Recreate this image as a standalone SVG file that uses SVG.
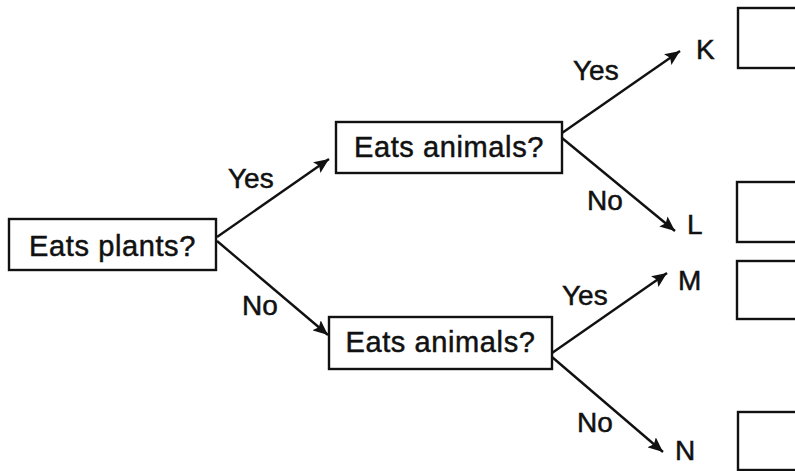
<svg xmlns="http://www.w3.org/2000/svg" width="795" height="471" viewBox="0 0 795 471">
  <style>
    .box { fill: #fff; stroke: #111; stroke-width: 2.4; }
    .txt { font-family: "Liberation Sans", Arial, sans-serif; font-size: 29px; fill: #111; stroke: #111; stroke-width: 0.5px; letter-spacing: 0.6px; }
    .lbl { font-family: "Liberation Sans", Arial, sans-serif; font-size: 28px; fill: #111; stroke: #111; stroke-width: 0.5px; }
    .edge { stroke: #111; stroke-width: 2.4; fill: none; marker-end: url(#arrow); }
  </style>
  <defs>
    <marker id="arrow" markerUnits="userSpaceOnUse" markerWidth="17" markerHeight="13" refX="15" refY="6.5" orient="auto">
      <path d="M0,0 L15,6.5 L0,13 L3,6.5 Z" fill="#111"/>
    </marker>
  </defs>
  <rect width="795" height="471" fill="#fff"/>

  <!-- connectors and their branch labels -->
  <g id="connectors">
    <line class="edge" x1="217" y1="237" x2="329" y2="159"/>
    <line class="edge" x1="217" y1="241" x2="328" y2="335"/>
    <line class="edge" x1="562" y1="133" x2="680" y2="51"/>
    <line class="edge" x1="562" y1="138" x2="675" y2="231"/>
    <line class="edge" x1="552" y1="353" x2="667" y2="273"/>
    <line class="edge" x1="552" y1="357" x2="663" y2="452"/>
    <text class="lbl" x="228" y="188">Yes</text>
    <text class="lbl" x="242" y="315">No</text>
    <text class="lbl" x="573" y="80">Yes</text>
    <text class="lbl" x="587" y="210">No</text>
    <text class="lbl" x="562" y="305">Yes</text>
    <text class="lbl" x="577" y="432">No</text>
  </g>

  <g id="eats-plants">
    <rect class="box" x="9" y="219" width="207" height="51"/>
    <text class="txt" x="112.5" y="256" text-anchor="middle">Eats plants?</text>
  </g>
  <g id="eats-animals-yes">
    <rect class="box" x="336" y="122" width="226" height="51"/>
    <text class="txt" x="449" y="157" text-anchor="middle">Eats animals?</text>
  </g>
  <g id="eats-animals-no">
    <rect class="box" x="329" y="317" width="223" height="52"/>
    <text class="txt" x="440.5" y="352" text-anchor="middle">Eats animals?</text>
  </g>

  <g id="leaf-k">
    <text class="lbl" x="696" y="59">K</text>
    <rect class="box" x="738" y="8" width="100" height="60"/>
  </g>
  <g id="leaf-l">
    <text class="lbl" x="687" y="234">L</text>
    <rect class="box" x="737" y="182" width="100" height="60"/>
  </g>
  <g id="leaf-m">
    <text class="lbl" x="678" y="290">M</text>
    <rect class="box" x="737" y="261" width="100" height="58"/>
  </g>
  <g id="leaf-n">
    <text class="lbl" x="675" y="460">N</text>
    <rect class="box" x="738" y="412" width="100" height="58"/>
  </g>
</svg>
